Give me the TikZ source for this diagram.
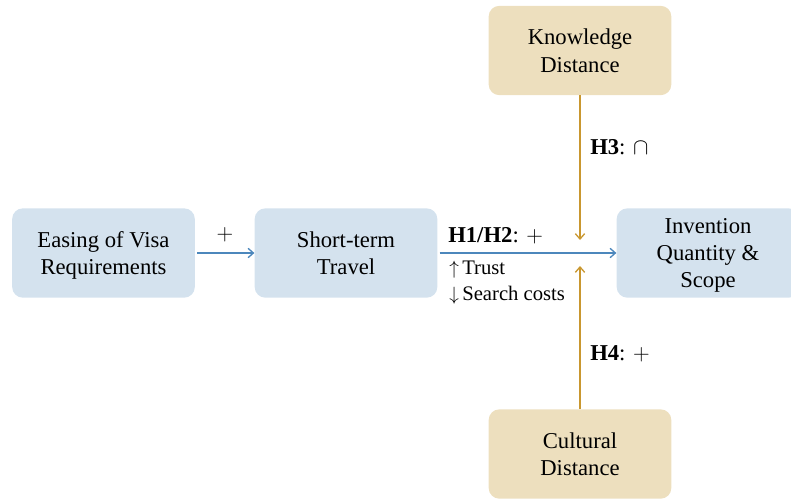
\documentclass[tikz,border=0pt]{standalone}
\usepackage{fontspec}
\setmainfont{Liberation Serif}
\usetikzlibrary{arrows.meta}
\definecolor{boxblue}{HTML}{D4E2EE}
\definecolor{boxtan}{HTML}{EDDFBE}
\definecolor{arrblue}{HTML}{4C87BC}
\definecolor{arrtan}{HTML}{C9972F}
\begin{document}
\begin{tikzpicture}[x=0.75pt,y=-0.75pt,
  boxbase/.style={rounded corners=8pt,minimum width=137pt,minimum height=67pt,align=center,font=\fontsize{17}{20.5}\selectfont,inner sep=0pt,text depth=-2.5pt},
  bbox/.style={boxbase,fill=boxblue},
  tbox/.style={boxbase,fill=boxtan},
  barrow/.style={draw=arrblue,line width=1pt,-{Straight Barb[length=4pt,width=7pt]}},
  tarrow/.style={draw=arrtan,line width=1pt,-{Straight Barb[length=4pt,width=7pt]}},
  lbl/.style={font=\fontsize{17}{20}\selectfont,inner sep=0pt},
  slbl/.style={font=\fontsize{15.5}{18}\selectfont,inner sep=0pt,anchor=west}]
\useasboundingbox (0,0) rectangle (791,500);
\begin{scope}
\clip (0,0) rectangle (791,500);
\node[bbox] (easing) at (103.5,253) {Easing of Visa\\Requirements};
\node[bbox] (short) at (346,253) {Short-term\\Travel};
\node[bbox] (inv) at (708,253) {Invention\\Quantity \&\\Scope};
\node[tbox] (know) at (580,50.5) {Knowledge\\Distance};
\node[tbox] (cult) at (580,454) {Cultural\\Distance};
\end{scope}
\coordinate (ktip) at (580,240);
\coordinate (ctip) at (580,266);
\draw[barrow] (easing.east) ++(2,0) coordinate (e1) (e1) -- (short.west);
\draw[barrow] (short.east) ++(2,0) coordinate (s1) (s1) -- (inv.west);
\draw[tarrow] (know.south) -- (ktip);
\draw[tarrow] (cult.north) -- (ctip);
\node[lbl] (plus) at (225,235) {$+$};
\node[lbl,anchor=west] (h12) at (448,236) {\textbf{H1/H2}: $+$};
\node[slbl] (trust) at (449,270) {$\uparrow$\,Trust};
\node[slbl] (search) at (449,295) {$\downarrow$\,Search costs};
\node[lbl,anchor=west] (h3) at (590,147) {\textbf{H3}: $\cap$};
\node[lbl,anchor=west] (h4) at (590,354) {\textbf{H4}: $+$};
\end{tikzpicture}
\end{document}
